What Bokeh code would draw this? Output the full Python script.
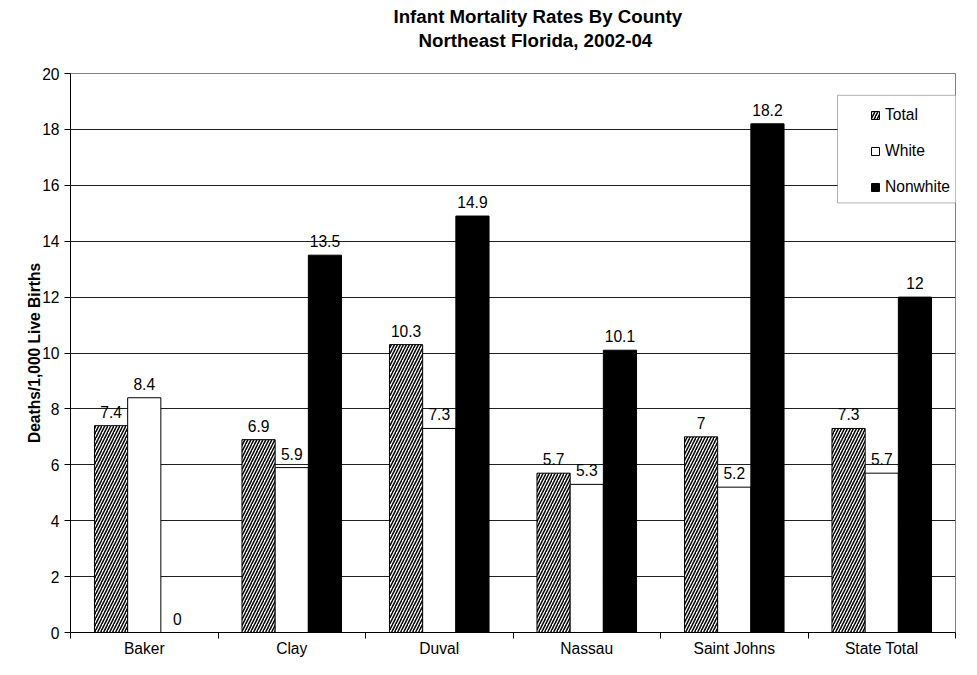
from bokeh.plotting import figure
from bokeh.models import (Range1d, FixedTicker, Title, Legend, LegendItem,
                          BoxAnnotation, ColumnDataSource)
from bokeh.transform import dodge
from bokeh.embed import file_html
from bokeh.resources import INLINE
from bokeh.core.properties import value

# ---- data ----
counties = ["Baker", "Clay", "Duval", "Nassau", "Saint Johns", "State Total"]
total = [7.4, 6.9, 10.3, 5.7, 7.0, 7.3]
white = [8.4, 5.9, 7.3, 5.3, 5.2, 5.7]
nonwhite = [0.0, 13.5, 14.9, 10.1, 18.2, 12.0]
y_ticks = [0, 2, 4, 6, 8, 10, 12, 14, 16, 18, 20]
series_names = ["Total", "White", "Nonwhite"]
title_lines = ["Infant Mortality Rates By County", "Northeast Florida, 2002-04"]
y_title = "Deaths/1,000 Live Births"

FONT = "Liberation Sans"
FS = "15.6px"

centers = [i + 0.5 for i in range(len(counties))]
fmt = lambda v: "{:g}".format(v)
src = ColumnDataSource(dict(
    x=centers, total=total, white=white, nonwhite=nonwhite,
    total_lbl=[fmt(v) for v in total],
    white_lbl=[fmt(v) for v in white],
    nonwhite_lbl=[fmt(v) for v in nonwhite],
))

p = figure(width=961, height=659, output_backend="svg", toolbar_location=None,
           x_range=Range1d(0, len(counties)), y_range=Range1d(0, 20),
           min_border_left=70, min_border_right=6, min_border_top=73,
           min_border_bottom=24, background_fill_color="white",
           border_fill_color="white", title=None)
p.outline_line_color = "#808080"
p.outline_line_width = 1

# x axis
p.xaxis.ticker = FixedTicker(ticks=centers, minor_ticks=list(range(len(counties) + 1)))
p.xaxis.major_label_overrides = {c: n for c, n in zip(centers, counties)}
p.xaxis.major_tick_line_color = None
p.xaxis.major_tick_out = 5
p.xaxis.major_tick_in = 0
p.xaxis.minor_tick_line_color = "black"
p.xaxis.minor_tick_out = 6
p.xaxis.minor_tick_in = 0
p.xaxis.major_label_standoff = 1
p.xaxis.major_label_text_font = FONT
p.xaxis.major_label_text_font_size = FS
p.xaxis.major_label_text_color = "black"
p.xaxis.axis_line_color = "black"
p.xgrid.visible = False

# y axis
p.yaxis.ticker = FixedTicker(ticks=y_ticks)
p.yaxis.minor_tick_line_color = None
p.yaxis.major_tick_out = 6
p.yaxis.major_tick_in = 0
p.yaxis.major_tick_line_color = "black"
p.yaxis.major_label_standoff = 5
p.yaxis.major_label_text_font = FONT
p.yaxis.major_label_text_font_size = FS
p.yaxis.major_label_text_color = "black"
p.yaxis.axis_line_color = "black"
p.yaxis.axis_label = y_title
p.yaxis.axis_label_text_font = FONT
p.yaxis.axis_label_text_font_size = FS
p.yaxis.axis_label_text_font_style = "bold"
p.yaxis.axis_label_text_color = "black"
p.yaxis.axis_label_standoff = -4
p.ygrid.ticker = FixedTicker(ticks=y_ticks[1:-1])
p.ygrid.grid_line_color = "#202020"
p.ygrid.grid_line_width = 1

W = 0.225
r_total = p.vbar(x=dodge("x", -W), top="total", width=W, source=src,
                 fill_color="white", line_color="black", line_width=1,
                 hatch_pattern="right_diagonal_line", hatch_color="black",
                 hatch_scale=6, hatch_weight=1.5)
r_white = p.vbar(x="x", top="white", width=W, source=src,
                 fill_color="white", line_color="black", line_width=1)
r_non = p.vbar(x=dodge("x", W), top="nonwhite", width=W, source=src,
               fill_color="black", line_color="black", line_width=1)

for off, col, lbl in [(-W, "total", "total_lbl"), (0, "white", "white_lbl"),
                      (W, "nonwhite", "nonwhite_lbl")]:
    p.text(x=dodge("x", off), y=col, text=lbl, source=src, text_align="center",
           text_baseline="alphabetic", y_offset=-14, text_font=value(FONT),
           text_font_size=value(FS), text_color="black")

# legend box
box = BoxAnnotation(left=5.2, right=6.5, top=19.22, bottom=15.37,
                    fill_color="white", fill_alpha=1.0,
                    line_color="black", line_width=1, level="annotation")
p.add_layout(box)

legend = Legend(items=[LegendItem(label=series_names[0], renderers=[r_total]),
                       LegendItem(label=series_names[1], renderers=[r_white]),
                       LegendItem(label=series_names[2], renderers=[r_non])],
                location=(800, 435), orientation="vertical",
                glyph_width=10, glyph_height=10, label_height=20,
                label_standoff=5, spacing=16, padding=0, margin=0,
                border_line_color=None, background_fill_alpha=0,
                label_text_font=FONT, label_text_font_size=FS,
                label_text_color="black")
p.add_layout(legend)

# title (two lines); panels stack outward from the frame
p.add_layout(Title(text=" ", standoff=9, text_font=FONT,
                   text_font_size="10px"), "above")
p.add_layout(Title(text=title_lines[1], align="left", offset=348, standoff=2,
                   text_font=FONT, text_font_size="18.7px",
                   text_font_style="bold", text_color="black"), "above")
p.add_layout(Title(text=title_lines[0], align="left", offset=323, standoff=0,
                   text_font=FONT, text_font_size="18.7px",
                   text_font_style="bold", text_color="black"), "above")

open("out.html", "w").write(file_html(p, INLINE))
